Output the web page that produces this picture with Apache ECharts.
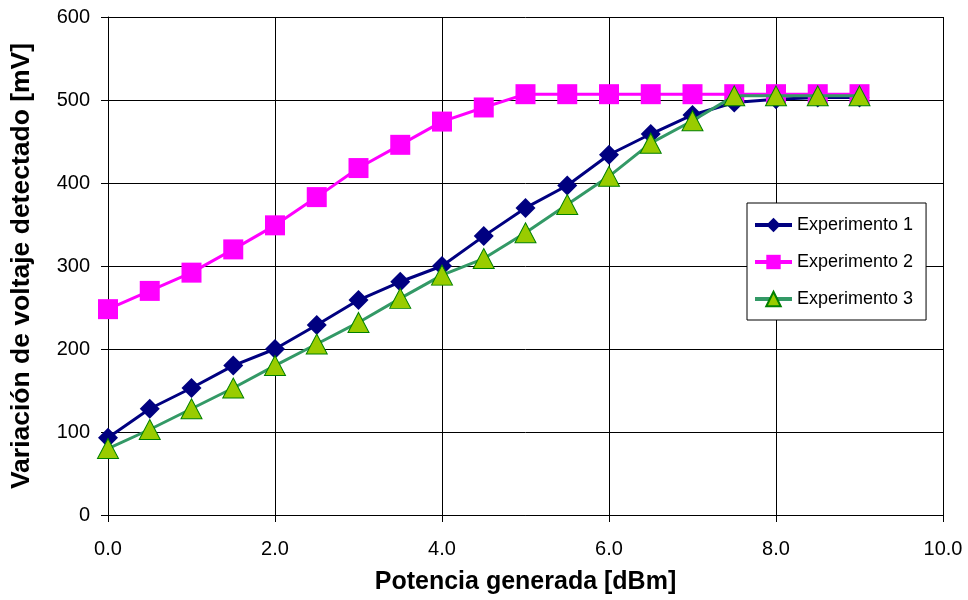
<!DOCTYPE html>
<html>
<head>
<meta charset="utf-8">
<script src="https://cdn.jsdelivr.net/npm/echarts@6/dist/echarts.min.js"></script>
<style>
  html, body { margin: 0; padding: 0; background: #fff; }
  #chart { width: 968px; height: 600px; }
</style>
</head>
<body>
<div id="chart"></div>
<script>
// Generated power levels [dBm]
const potencia = [0, 0.5, 1, 1.5, 2, 2.5, 3, 3.5, 4, 4.5, 5, 5.5, 6, 6.5, 7, 7.5, 8, 8.5, 9];

// Detected voltage variation [mV] for each experiment
const experimento1 = [93, 128, 153, 180, 200, 229, 259, 281, 300, 336, 370, 397, 434, 459, 482, 497, 501, 503, 503];
const experimento2 = [248, 270, 292, 320, 349, 383, 418, 446, 474, 491, 507, 507, 507, 507, 507, 507, 507, 507, 507];
const experimento3 = [80, 103, 128, 153, 180, 206, 232, 261, 289, 309, 340, 374, 408, 448, 475, 505, 505, 505, 505];

const seriesNames = ['Experimento 1', 'Experimento 2', 'Experimento 3'];
const xAxisTitle = 'Potencia generada [dBm]';
const yAxisTitle = 'Variación de voltaje detectado [mV]';

const pairs = (ys) => potencia.map((x, i) => [x, ys[i]]);

const font = 'Liberation Sans, Arial, sans-serif';
const chart = echarts.init(document.getElementById('chart'));

chart.setOption({
  backgroundColor: '#ffffff',
  animation: false,
  textStyle: { fontFamily: font },
  grid: { left: 108, right: 25, top: 17, bottom: 84, containLabel: false },
  xAxis: {
    type: 'value',
    min: 0, max: 10, interval: 2,
    name: xAxisTitle,
    nameLocation: 'middle',
    nameGap: 55,
    nameTextStyle: { fontFamily: font, fontSize: 25, fontWeight: 'bold', color: '#000' },
    axisLine: { show: true, onZero: false, lineStyle: { color: '#000', width: 1 } },
    axisTick: { show: true, length: 7, inside: false, lineStyle: { color: '#000' } },
    axisLabel: { fontFamily: font, fontSize: 20, color: '#000', margin: 24,
                 formatter: (v) => v.toFixed(1) },
    splitLine: { show: true, lineStyle: { color: '#000', width: 1 } }
  },
  yAxis: {
    type: 'value',
    min: 0, max: 600, interval: 100,
    name: yAxisTitle,
    nameLocation: 'middle',
    nameGap: 73,
    nameTextStyle: { fontFamily: font, fontSize: 26.5, fontWeight: 'bold', color: '#000' },
    axisLine: { show: true, lineStyle: { color: '#000', width: 1 } },
    axisTick: { show: true, length: 7, inside: false, lineStyle: { color: '#000' } },
    axisLabel: { fontFamily: font, fontSize: 20, color: '#000', margin: 18 },
    splitLine: { show: true, lineStyle: { color: '#000', width: 1 } }
  },
  legend: {
    orient: 'vertical',
    left: 747, top: 203,
    padding: [13, 13, 12, 6],
    itemGap: 19,
    itemWidth: 37,
    itemHeight: 18,
    backgroundColor: '#fff',
    borderColor: '#000',
    borderWidth: 1,
    borderRadius: 0,
    lineStyle: { width: 4 },
    textStyle: { fontFamily: font, fontSize: 18, color: '#000' },
    data: seriesNames
  },
  series: [
    {
      name: seriesNames[0],
      type: 'line',
      data: pairs(experimento1),
      symbol: 'diamond',
      symbolSize: 20,
      lineStyle: { color: '#000080', width: 3 },
      itemStyle: { color: '#000080' },
      z: 2
    },
    {
      name: seriesNames[1],
      type: 'line',
      data: pairs(experimento2),
      symbol: 'rect',
      symbolSize: 20,
      lineStyle: { color: '#ff00ff', width: 3 },
      itemStyle: { color: '#ff00ff' },
      z: 3
    },
    {
      name: seriesNames[2],
      type: 'line',
      data: pairs(experimento3),
      symbol: 'triangle',
      symbolSize: [21, 20],
      lineStyle: { color: '#339966', width: 3 },
      itemStyle: { color: '#99cc00', borderColor: '#008000', borderWidth: 1 },
      z: 4
    }
  ]
});
</script>
</body>
</html>
